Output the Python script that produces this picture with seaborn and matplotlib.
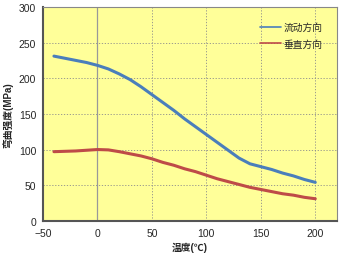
import pandas as pd
import matplotlib.pyplot as plt
import seaborn as sns

temp = [-40, -30, -20, -10, 0, 10, 20, 30, 40, 50, 60, 70, 80, 90, 100,
        110, 120, 130, 140, 150, 160, 170, 180, 190, 200]
strength_flow = [231, 228, 225, 222, 218, 213, 206, 198, 188, 177, 166, 155, 143,
                 132, 121, 110, 99, 88, 80, 76, 72, 67, 63, 58, 54]
strength_perp = [97, 97.5, 98, 99, 100, 99.5, 97, 94, 91, 87, 82, 78, 73,
                 69, 64, 59, 55, 51, 47, 44, 41, 38, 36, 33, 31]
series_names = ['流动方向', '垂直方向']

df = pd.concat([
    pd.DataFrame({'T': temp, 'S': strength_flow, 'dir': series_names[0]}),
    pd.DataFrame({'T': temp, 'S': strength_perp, 'dir': series_names[1]}),
])

sns.set_style('white')
plt.rcParams['font.family'] = ['Liberation Sans', 'Noto Sans CJK SC']

fig = plt.figure(figsize=(3.5, 2.55), dpi=100)
ax = fig.add_axes([0.123, 0.13, 0.84, 0.839])
ax.set_facecolor('#FFFF99')
sns.lineplot(data=df, x='T', y='S', hue='dir', palette=['#4a7ebb', '#be4b48'],
             linewidth=2.2, ax=ax, sort=False)

ax.set_xlim(-50, 220)
ax.set_ylim(0, 300)
ax.set_xticks([-50, 0, 50, 100, 150, 200])
ax.set_yticks([0, 50, 100, 150, 200, 250, 300])
for x in [50, 100, 150, 200]:
    ax.axvline(x, color='#8c8c8c', lw=0.6, ls=(0, (1.5, 2)), zorder=0)
for y in [50, 100, 150, 200, 250]:
    ax.axhline(y, color='#8c8c8c', lw=0.6, ls=(0, (1.5, 2)), zorder=0)
ax.axvline(0, color='#999999', lw=0.9, zorder=0)

ax.tick_params(labelsize=7.5, length=0, pad=5)
ax.set_xlabel('温度(℃)', fontsize=7, fontweight='bold', labelpad=3)
ax.set_ylabel('弯曲强度(MPa)', fontsize=7, fontweight='bold', labelpad=4)
for s in ['left', 'bottom']:
    ax.spines[s].set_color('#555555')
    ax.spines[s].set_linewidth(1.5)
for s in ['top', 'right']:
    ax.spines[s].set_color('#888888')
    ax.spines[s].set_linewidth(0.8)

ax.legend(title=None, loc='upper right', frameon=False, fontsize=7,
          handlelength=2.2, handletextpad=0.2, bbox_to_anchor=(0.98, 0.97),
          labelspacing=0.7)
for line in ax.get_legend().get_lines():
    line.set_linewidth(1.2)

plt.savefig('out.png', dpi=100)
